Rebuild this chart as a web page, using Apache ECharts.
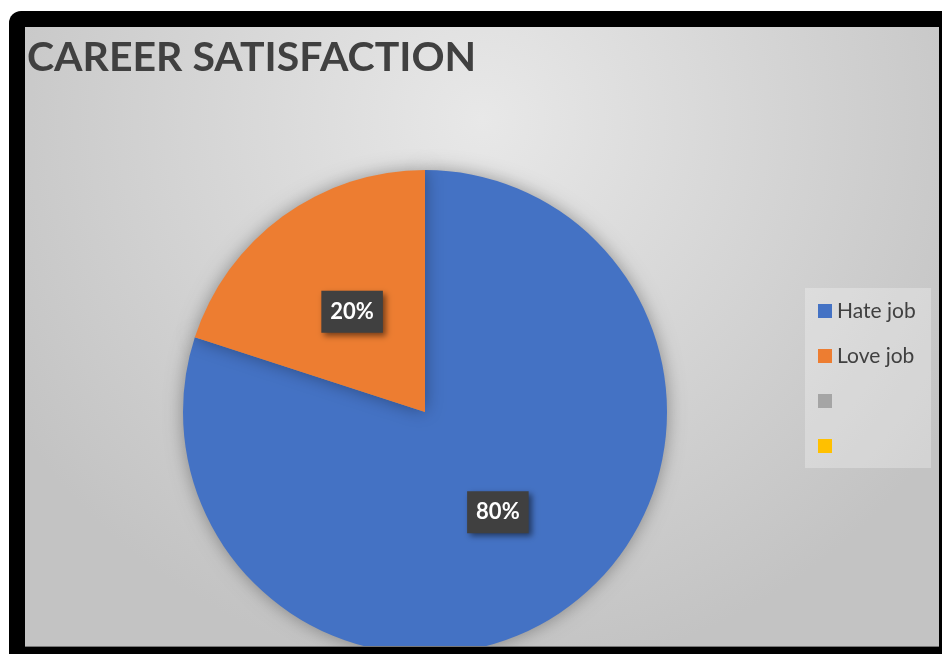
<!DOCTYPE html>
<html><head><meta charset="utf-8">
<script src="https://cdn.jsdelivr.net/npm/echarts@6/dist/echarts.min.js"></script>
<style>html,body{margin:0;padding:0;background:#fff;}#c{width:942px;height:654px;}</style>
</head><body><div id="c"></div>
<script>
const categories = ['Hate job', 'Love job', ' ', '  '];
const values = [80, 20, 0, 0];
const colors = ['#4472C4', '#ED7D31', '#A5A5A5', '#FFC000'];
const titleText = 'CAREER SATISFACTION';

const chart = echarts.init(document.getElementById('c'), null, {renderer: 'canvas'});
const font = 'Lato, "Open Sans", sans-serif';
const data = categories.map((n, i) => ({
  name: n, value: values[i], itemStyle: {color: colors[i]},
  label: {show: values[i] > 0}, labelLine: {show: false}
}));
chart.setOption({
  animation: false,
  graphic: [
    {type: 'rect', z: -10, shape: {x: 9, y: 11, width: 960, height: 660, r: [12, 0, 0, 0]}, style: {fill: '#000'}},
    {type: 'rect', z: -9, shape: {x: 25, y: 27, width: 914, height: 619},
      style: {fill: {type: 'radial', x: 0.5, y: 0.15, r: 0.9, colorStops: [{offset: 0, color: '#e8e8e8'}, {offset: 1, color: '#c3c3c3'}]}}},
    {type: 'rect', z: -8, shape: {x: 805, y: 288, width: 126, height: 180}, style: {fill: 'rgba(255,255,255,0.28)'}},
    {type: 'rect', z: 100, shape: {x: 9, y: 646, width: 940, height: 10}, style: {fill: '#000'}},
    {type: 'rect', z: 100, shape: {x: 25, y: 646, width: 914, height: 1}, style: {fill: '#777'}}
  ],
  title: {text: titleText, left: 22, top: 32,
    textStyle: {fontFamily: font, fontWeight: 'bold', fontSize: 41, color: '#404040'}},
  legend: {orient: 'vertical', left: 818, top: 299, padding: 0, icon: 'rect', itemWidth: 14, itemHeight: 14, itemGap: 21,
    textStyle: {fontFamily: font, fontSize: 21, color: '#404040', lineHeight: 24},
    data: categories},
  series: [{
    type: 'pie', center: [425, 412], radius: 242, startAngle: 90, clockwise: true,
    avoidLabelOverlap: false,
    itemStyle: {shadowBlur: 18, shadowColor: 'rgba(0,0,0,0.35)'},
    emphasis: {disabled: true},
    label: {position: 'inside', formatter: '{d}%', fontFamily: font, fontWeight: 'bold', fontSize: 22,
      color: '#fff', backgroundColor: '#404040', padding: [10, 9, 10, 9], lineHeight: 22,
      shadowBlur: 6, shadowOffsetX: 3, shadowOffsetY: 3, shadowColor: 'rgba(0,0,0,0.5)'},
    labelLine: {show: false},
    data: data
  }]
});
</script></body></html>
